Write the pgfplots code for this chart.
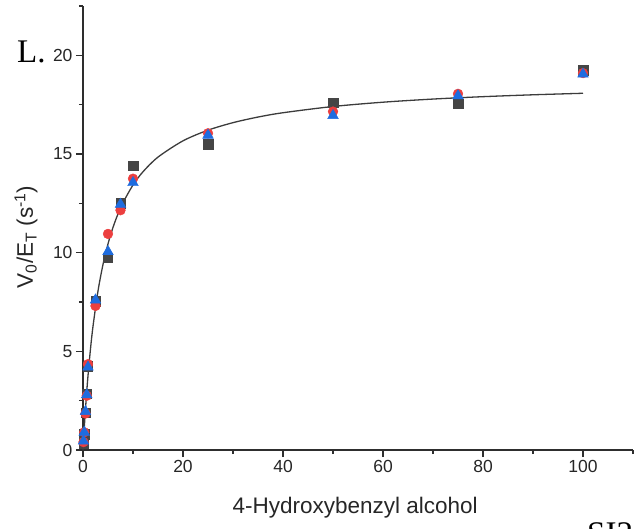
\documentclass[border=0pt]{standalone}
\usepackage{fontspec}
\setmainfont{Liberation Sans}
\newfontfamily\seriffont{Liberation Serif}
\usepackage{pgfplots}
\pgfplotsset{compat=1.18}
\definecolor{sqgray}{HTML}{454545}
\definecolor{cred}{HTML}{EC3F3F}
\definecolor{tblue}{HTML}{1E6CDF}
\definecolor{fitgray}{HTML}{3C3C3C}
\definecolor{axgray}{HTML}{2E2E2E}
\begin{document}
\begin{tikzpicture}
\begin{axis}[
  name=ax,
  scale only axis,
  width=550pt, height=444pt,
  xmin=0, xmax=110, ymin=0, ymax=22.5,
  axis x line=bottom, axis y line=left,
  axis line style={-, line width=1.2pt, color=axgray},
  xtick={0,20,...,100}, minor xtick={10,30,50,70,90,110},
  ytick={0,5,...,20}, minor ytick={2.5,7.5,12.5,17.5,22.5},
  tick align=outside,
  major tick length=7pt, minor tick length=4pt,
  tick style={line width=1.2pt, color=axgray},
  /pgf/number format/assume math mode=true,
  tick label style={font=\fontsize{17.5}{20}\selectfont, color=black!85},
  xlabel={4-Hydroxybenzyl alcohol},
  ylabel={V\textsubscript{0}/E\textsubscript{T} (s\textsuperscript{-1})},
  label style={font=\fontsize{22.5}{26}\selectfont, color=black!85},
  xlabel style={at={(axis description cs:0.495,0)}, anchor=base, yshift=-63pt},
  ylabel style={at={(axis description cs:-0.1036,0.48)}, anchor=center},
  clip=false,
]
% fitted curve
\addplot[fitgray, line width=1.3pt, smooth] coordinates {
(0,0) (0.25,1.106) (0.5,2.089) (0.75,2.968) (1,3.76) (1.5,5.127) (2,6.267) (3,8.057) (4,9.4) (5,10.444) (6,11.28) (7,11.964) (8,12.533) (10,13.429) (12,14.1) (15,14.842) (20,15.667) (25,16.207) (30,16.588) (35,16.872) (40,17.091) (50,17.407) (60,17.625) (70,17.784) (80,17.905) (90,18.0) (100,18.077)
};
% squares
\addplot[only marks, mark=square*, mark size=4.7pt, color=sqgray] coordinates {
(0.1,0.35) (0.25,0.8) (0.5,1.9) (0.75,2.85) (1,4.25) (2.5,7.55) (5,9.75) (7.5,12.5) (10,14.4) (25,15.5) (50,17.6) (75,17.55) (100,19.25)
};
% circles
\addplot[only marks, mark=*, mark size=4.9pt, color=cred] coordinates {
(0.1,0.4) (0.25,0.9) (0.5,1.85) (0.75,2.75) (1,4.35) (2.5,7.3) (5,10.95) (7.5,12.15) (10,13.75) (25,16.05) (50,17.15) (75,18.05) (100,19.1)
};
% triangles
\addplot[only marks, mark=triangle*, mark size=6.2pt, color=tblue] coordinates {
(0.1,0.45) (0.25,0.9) (0.5,1.95) (0.75,2.8) (1,4.2) (2.5,7.6) (5,10.05) (7.5,12.45) (10,13.55) (25,15.95) (50,16.95) (75,17.95) (100,19.05)
};
\end{axis}
\node[anchor=base west, inner sep=0pt, font=\seriffont\fontsize{33}{36}\selectfont] at ([xshift=-66pt, yshift=387pt]ax.south west) {L.};
\node[anchor=base west, inner sep=0pt, font=\seriffont\fontsize{33}{36}\selectfont] at ([xshift=504pt, yshift=-94pt]ax.south west) {SI2};
\pgfresetboundingbox
\path[use as bounding box] ([xshift=-83pt, yshift=-79pt]ax.south west) rectangle ([xshift=6pt, yshift=6pt]ax.north east);
\end{tikzpicture}
\end{document}
